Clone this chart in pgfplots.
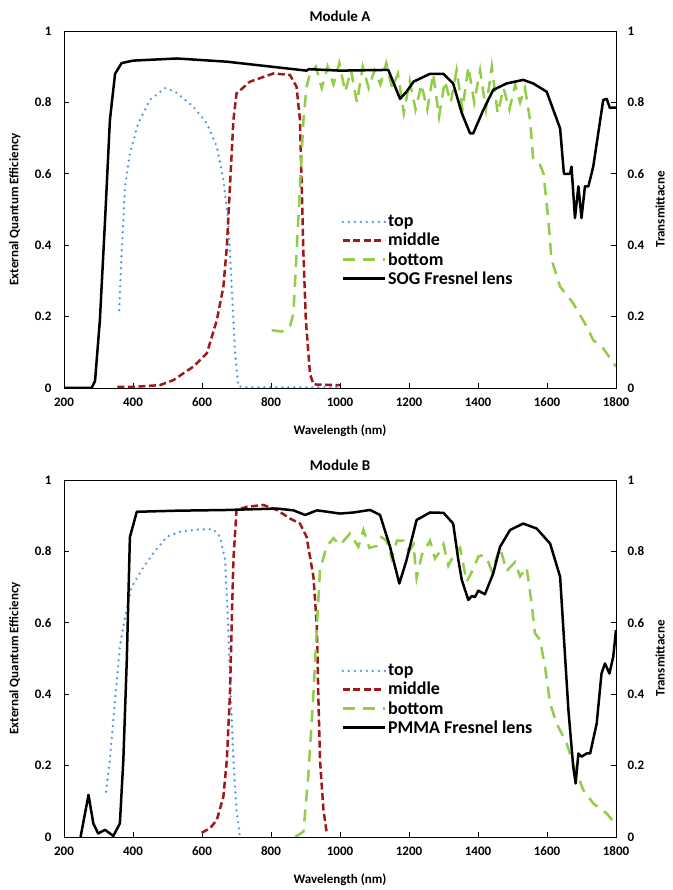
\documentclass[border=0pt]{standalone}
\usepackage{fontspec}
\setmainfont{Carlito}
\usepackage{pgfplots}
\pgfplotsset{compat=1.18}
\definecolor{TopBlue}{HTML}{5596E6}
\definecolor{MidRed}{HTML}{A01818}
\definecolor{BotGreen}{HTML}{92CC48}

\pgfplotsset{
  panel/.style={
    scale only axis,width=552bp,height=357bp,
    xmin=200,xmax=1800,ymin=0,ymax=1,
    xtick={200,400,...,1800},ytick={0,0.2,...,1},
    tick align=inside,major tick length=5bp,
    tick style={black,line width=0.6bp},
    axis line style={black,line width=0.8bp},
    /pgf/number format/assume math mode=true,
    /pgf/number format/1000 sep={},
    tick label style={font=\fontsize{13bp}{15bp}\selectfont\bfseries},
    label style={font=\fontsize{13bp}{15bp}\selectfont\bfseries},
    title style={font=\fontsize{15bp}{17bp}\selectfont\bfseries,yshift=0bp},
    xticklabel style={yshift=-6bp},
    xlabel style={at={(axis description cs:0.5,-0.12)},anchor=center},
  },
  leftside/.style={panel,xtick pos=bottom,ytick pos=left,
    yticklabel style={xshift=-9bp},
    ylabel style={at={(axis description cs:-0.089,0.5)},anchor=center}},
  rightside/.style={panel,axis x line=none,axis y line*=right,
    yticklabel style={xshift=8bp},
    ylabel style={at={(axis description cs:1.08,0.5)},anchor=center},
    legend style={draw=none,fill=none,at={(axis description cs:0.497,0.495)},anchor=north west,
      font=\fontsize{18bp}{20bp}\selectfont\bfseries,row sep=1bp,
      /tikz/every even column/.append style={column sep=1bp}},
    legend cell align=left,
    legend image code/.code={\draw[##1] (0bp,0bp) -- (42bp,0bp);}},
  topline/.style={TopBlue,line width=2.6bp,line cap=round,dash pattern=on 0bp off 6bp},
  midline/.style={MidRed,line width=2.5bp,dash pattern=on 7bp off 3.5bp},
  botline/.style={BotGreen,line width=2.5bp,dash pattern=on 12bp off 8bp},
  lensline/.style={black,line width=2.5bp,line join=round},
}

\begin{document}
\begin{tikzpicture}
% ---------------- Module A ----------------
\begin{axis}[leftside,at={(64bp,502bp)},anchor=south west,
  title={Module A},xlabel={Wavelength (nm)},ylabel={External Quantum Efficiency}]
\addplot[topline] coordinates {
  (360,0.218)(367,0.377)(377,0.564)(391,0.657)(415,0.741)(449,0.807)(493,0.840)
  (522,0.830)(575,0.788)(614,0.741)(643,0.676)(662,0.583)(676,0.470)(686,0.284)
  (696,0.098)(705,0.005)(720,0.002)(1000,0.002)};
\addplot[midline] coordinates {
  (355,0.003)(400,0.003)(478,0.008)(517,0.022)(575,0.060)(614,0.097)(643,0.190)
  (662,0.284)(672,0.396)(681,0.564)(691,0.750)(700,0.825)(739,0.858)(807,0.881)
  (855,0.877)(874,0.844)(884,0.750)(889,0.564)(894,0.377)(901,0.190)(913,0.040)
  (923,0.010)(1000,0.008)};
\addplot[botline] coordinates {
  (802,0.162)(831,0.158)(855,0.172)(865,0.209)(874,0.377)(884,0.564)(894,0.750)
  (903,0.844)(913,0.880)(930,0.900)(947,0.840)(964,0.900)(981,0.850)(998,0.910)
  (1015,0.830)(1032,0.890)(1049,0.800)(1066,0.900)(1083,0.840)(1100,0.890)(1117,0.850)
  (1134,0.910)(1151,0.840)(1168,0.880)(1185,0.770)(1202,0.860)(1219,0.780)(1236,0.850)
  (1253,0.780)(1270,0.880)(1287,0.760)(1304,0.860)(1321,0.800)(1338,0.890)(1355,0.780)
  (1372,0.900)(1389,0.800)(1406,0.890)(1423,0.780)(1440,0.900)(1457,0.770)(1474,0.840)
  (1491,0.780)(1508,0.850)(1522,0.800)(1536,0.840)
  (1551,0.750)(1560,0.640)(1580,0.625)(1590,0.600)(1604,0.470)(1613,0.360)
  (1638,0.284)(1676,0.237)(1715,0.172)(1734,0.134)(1763,0.111)(1800,0.060)};
\end{axis}
\begin{axis}[rightside,at={(64bp,502bp)},anchor=south west,ylabel={Transmittacne}]
\addlegendimage{topline}\addlegendentry{top}
\addlegendimage{midline}\addlegendentry{middle}
\addlegendimage{botline}\addlegendentry{bottom}
\addplot[lensline] coordinates {
  (200,0)(280,0)(290,0.020)(304,0.190)(319,0.470)(333,0.750)(348,0.880)(367,0.910)
  (400,0.917)(527,0.923)(672,0.914)(903,0.889)(910,0.893)(1000,0.889)(1140,0.891)
  (1174,0.810)(1193,0.830)(1213,0.858)(1261,0.880)(1300,0.880)(1328,0.853)(1353,0.770)
  (1377,0.713)(1386,0.713)(1415,0.778)(1444,0.835)(1483,0.853)(1531,0.863)(1560,0.853)
  (1599,0.830)(1638,0.727)(1649,0.600)(1667,0.600)(1671,0.620)(1681,0.476)(1691,0.565)
  (1700,0.476)(1710,0.565)(1720,0.565)(1734,0.620)(1763,0.807)(1773,0.810)(1782,0.785)
  (1800,0.785)};
\addlegendentry{SOG Fresnel lens}
\end{axis}
% ---------------- Module B ----------------
\begin{axis}[leftside,at={(64bp,53bp)},anchor=south west,
  title={Module B},xlabel={Wavelength (nm)},ylabel={External Quantum Efficiency}]
\addplot[topline] coordinates {
  (322,0.127)(333,0.216)(348,0.384)(362,0.533)(377,0.617)(396,0.700)(425,0.748)
  (459,0.795)(498,0.841)(536,0.855)(594,0.862)(633,0.862)(652,0.841)(667,0.776)
  (676,0.589)(683,0.402)(691,0.216)(700,0.076)(710,0)};
\addplot[midline] coordinates {
  (599,0.012)(623,0.024)(643,0.048)(662,0.113)(672,0.216)(681,0.402)(686,0.589)
  (691,0.776)(700,0.916)(730,0.925)(778,0.930)(817,0.916)(855,0.892)(884,0.878)
  (903,0.841)(923,0.729)(933,0.589)(937,0.402)(942,0.216)(952,0.076)(961,0.015)};
\addplot[botline] coordinates {
  (870,0)(894,0.015)(908,0.170)(923,0.402)(933,0.589)(942,0.748)(961,0.813)(981,0.837)
  (1000,0.818)(1029,0.850)(1053,0.813)(1068,0.860)(1085,0.810)(1106,0.815)
  (1120,0.840)(1135,0.830)(1150,0.780)(1165,0.830)(1184,0.830)(1200,0.800)
  (1213,0.820)(1222,0.725)(1237,0.790)(1261,0.830)(1275,0.780)(1290,0.800)
  (1300,0.820)(1314,0.760)(1330,0.790)(1348,0.810)(1367,0.715)(1387,0.752)(1401,0.786)
  (1415,0.790)(1430,0.770)(1440,0.745)(1464,0.810)(1483,0.745)
  (1507,0.770)(1522,0.730)(1541,0.755)(1556,0.650)(1565,0.571)(1580,0.552)(1594,0.478)
  (1609,0.374)(1628,0.318)(1657,0.262)(1676,0.206)(1705,0.132)(1734,0.094)(1773,0.066)
  (1800,0.034)};
\end{axis}
\begin{axis}[rightside,at={(64bp,53bp)},anchor=south west,ylabel={Transmittacne}]
\addlegendimage{topline}\addlegendentry{top}
\addlegendimage{midline}\addlegendentry{middle}
\addlegendimage{botline}\addlegendentry{bottom}
\addplot[lensline] coordinates {
  (248,0)(271,0.118)(285,0.038)(299,0.010)(319,0.020)(343,0.003)(362,0.038)(372,0.216)
  (382,0.496)(391,0.840)(411,0.911)(527,0.914)(672,0.916)(817,0.920)(865,0.915)
  (899,0.902)(933,0.915)(1000,0.906)(1039,0.909)(1087,0.916)(1116,0.902)(1145,0.813)
  (1172,0.710)(1193,0.776)(1222,0.888)(1261,0.909)(1300,0.908)(1328,0.878)(1343,0.776)
  (1353,0.720)(1372,0.664)(1382,0.675)(1391,0.672)(1401,0.690)(1420,0.680)(1444,0.738)
  (1464,0.813)(1493,0.860)(1531,0.878)(1570,0.864)(1609,0.822)(1638,0.729)(1647,0.589)
  (1662,0.356)(1676,0.197)(1683,0.150)(1691,0.234)(1700,0.225)(1715,0.234)(1725,0.234)
  (1744,0.318)(1758,0.458)(1768,0.486)(1781,0.458)(1792,0.505)(1800,0.580)};
\addlegendentry{PMMA Fresnel lens}
\end{axis}
\pgfresetboundingbox
\useasboundingbox (0,0) rectangle (673bp,890bp);
\end{tikzpicture}
\end{document}
